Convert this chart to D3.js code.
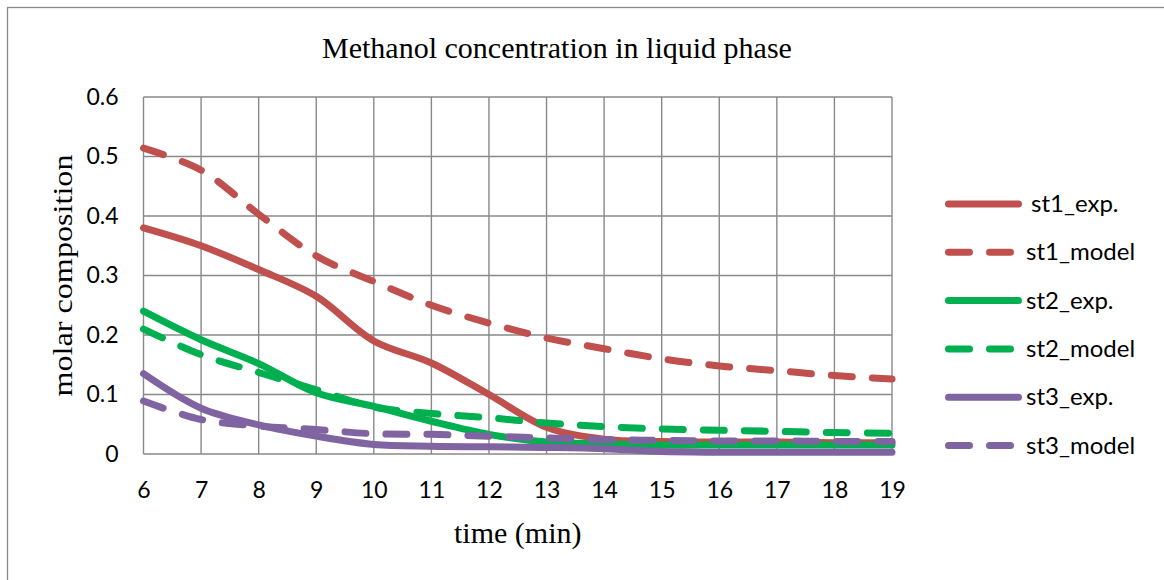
<!DOCTYPE html>
<html>
<head>
<meta charset="utf-8">
<script src="https://cdn.jsdelivr.net/npm/d3@7"></script>
<style>
  body { margin: 0; background: #fff; }
  svg { display: block; }
</style>
</head>
<body>
<svg id="chart" width="1164" height="580"></svg>
<script>
'use strict';

// data
let times = [6, 7, 8, 9, 10, 11, 12, 13, 14, 15, 16, 17, 18, 19]
let st1Exp = [0.38, 0.35, 0.31, 0.265, 0.19, 0.153, 0.1, 0.045, 0.025, 0.021, 0.02, 0.02, 0.019, 0.019]
let st1Model = [0.514, 0.477, 0.403, 0.333, 0.29, 0.25, 0.22, 0.195, 0.177, 0.16, 0.148, 0.14, 0.132, 0.126]
let st2Exp = [0.24, 0.192, 0.152, 0.103, 0.08, 0.055, 0.033, 0.02, 0.017, 0.015, 0.015, 0.015, 0.015, 0.015]
let st2Model = [0.21, 0.167, 0.137, 0.108, 0.079, 0.068, 0.061, 0.052, 0.046, 0.042, 0.04, 0.038, 0.036, 0.035]
let st3Exp = [0.135, 0.077, 0.049, 0.03, 0.016, 0.013, 0.012, 0.011, 0.009, 0.004, 0.003, 0.003, 0.003, 0.003]
let st3Model = [0.089, 0.058, 0.047, 0.041, 0.034, 0.033, 0.03, 0.027, 0.024, 0.023, 0.022, 0.022, 0.021, 0.021]
let yTicks = [0, 0.1, 0.2, 0.3, 0.4, 0.5, 0.6]

let seriesList = [
    { name: 'st1_exp.', values: st1Exp, color: '#C0504D', dashed: false },
    { name: 'st1_model', values: st1Model, color: '#C0504D', dashed: true },
    { name: 'st2_exp.', values: st2Exp, color: '#00B050', dashed: false },
    { name: 'st2_model', values: st2Model, color: '#00B050', dashed: true },
    { name: 'st3_exp.', values: st3Exp, color: '#8064A2', dashed: false },
    { name: 'st3_model', values: st3Model, color: '#8064A2', dashed: true }
]

let svg = d3.select('#chart')
let gridColor = '#898989'
let sansFont = 'Lato, "Open Sans", sans-serif'
let serifFont = '"Liberation Serif", "DejaVu Serif", serif'
let lineWidth = 7
let dashPattern = '21 20'

let plot = { left: 143.5, top: 97, right: 892, bottom: 454 }

let x = d3.scaleLinear().domain([6, 19]).range([plot.left, plot.right])
let y = d3.scaleLinear().domain([0, 0.6]).range([plot.bottom, plot.top])

// outer chart border (only left and top are inside the picture)
svg.append('rect')
    .attr('x', 7.5).attr('y', 7.5)
    .attr('width', 1300).attr('height', 700)
    .attr('fill', 'none')
    .attr('stroke', gridColor)
    .attr('stroke-width', 1.3)

svg.append('text')
    .attr('x', 557).attr('y', 58)
    .attr('text-anchor', 'middle')
    .attr('font-family', serifFont)
    .attr('font-size', 30)
    .text('Methanol concentration in liquid phase')

// gridlines
let grid = svg.append('g').attr('class', 'grid')
grid.selectAll('line.h')
    .data(yTicks)
    .enter().append('line')
    .attr('class', 'h')
    .attr('x1', plot.left).attr('x2', plot.right)
    .attr('y1', function(d) { return y(d); })
    .attr('y2', function(d) { return y(d); })
    .attr('stroke', gridColor)
    .attr('stroke-width', 1.4)
grid.selectAll('line.v')
    .data(times)
    .enter().append('line')
    .attr('class', 'v')
    .attr('y1', plot.top).attr('y2', plot.bottom)
    .attr('x1', function(d) { return x(d); })
    .attr('x2', function(d) { return x(d); })
    .attr('stroke', gridColor)
    .attr('stroke-width', 1.4)

// axes, labels only
let yAxis = svg.append('g')
    .attr('transform', 'translate(' + (plot.left - 25) + ',0)')
    .call(d3.axisLeft(y).tickValues(yTicks).tickSize(0).tickPadding(0)
        .tickFormat(function(d) { return d === 0 ? '0' : d3.format('.1f')(d); }))
yAxis.select('.domain').remove()
yAxis.selectAll('text')
    .attr('font-family', sansFont)
    .attr('font-size', 23)
    .attr('fill', '#000')

let xAxis = svg.append('g')
    .attr('transform', 'translate(0,' + (plot.bottom + 28) + ')')
    .call(d3.axisBottom(x).tickValues(times).tickSize(0).tickPadding(0))
xAxis.select('.domain').remove()
xAxis.selectAll('text')
    .attr('font-family', sansFont)
    .attr('font-size', 23)
    .attr('fill', '#000')

svg.append('text')
    .attr('x', (plot.left + plot.right) / 2).attr('y', 543)
    .attr('text-anchor', 'middle')
    .attr('font-family', serifFont)
    .attr('font-size', 30)
    .text('time (min)')

svg.append('text')
    .attr('transform', 'translate(72,' + ((plot.top + plot.bottom) / 2) + ') rotate(-90)')
    .attr('text-anchor', 'middle')
    .attr('font-family', serifFont)
    .attr('font-size', 28)
    .attr('textLength', 242)
    .attr('lengthAdjust', 'spacingAndGlyphs')
    .text('molar composition')

// series
let line = d3.line()
    .x(function(d, i) { return x(times[i]); })
    .y(function(d) { return y(d); })
    .curve(d3.curveCatmullRom.alpha(0.5))

svg.append('g')
    .attr('class', 'series')
    .selectAll('path')
    .data(seriesList)
    .enter().append('path')
    .attr('d', function(d) { return line(d.values); })
    .attr('fill', 'none')
    .attr('stroke', function(d) { return d.color; })
    .attr('stroke-width', lineWidth)
    .attr('stroke-linecap', 'round')
    .attr('stroke-linejoin', 'round')
    .attr('stroke-dasharray', function(d) { return d.dashed ? dashPattern : null; })

// legend
let legend = svg.append('g').attr('class', 'legend')
let rows = legend.selectAll('g')
    .data(seriesList)
    .enter().append('g')
    .attr('transform', function(d, i) { return 'translate(0,' + (204 + i * 48.3) + ')'; })
rows.append('line')
    .attr('x1', 948.5).attr('x2', 1018.5)
    .attr('stroke', function(d) { return d.color; })
    .attr('stroke-width', lineWidth)
    .attr('stroke-linecap', 'round')
    .attr('stroke-dasharray', function(d) { return d.dashed ? dashPattern : null; })
rows.append('text')
    .attr('x', function(d, i) { return i === 0 ? 1031 : 1026; })
    .attr('y', 8)
    .attr('font-family', sansFont)
    .attr('font-size', 24)
    .text(function(d) { return d.name; })
</script>
</body>
</html>
